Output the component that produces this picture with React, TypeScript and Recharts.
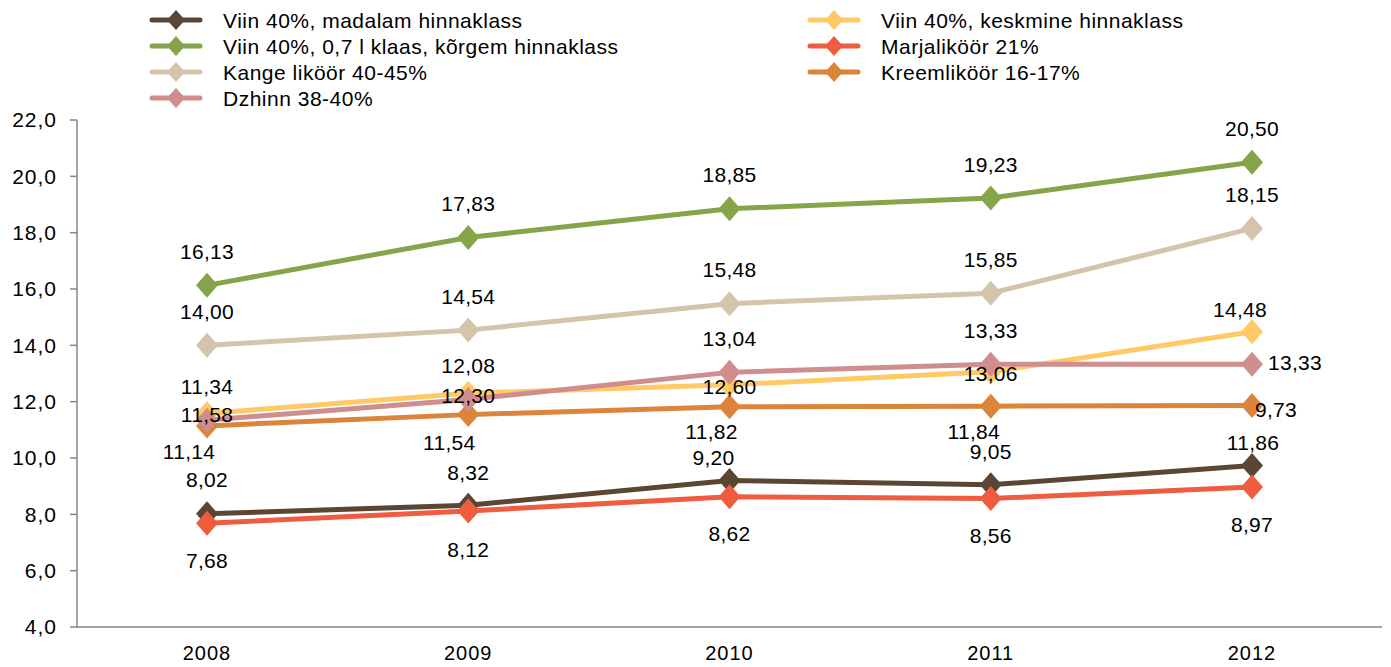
import React from "react";
import { LineChart, Line, XAxis, YAxis, LabelList } from "recharts";

const years = ["2008", "2009", "2010", "2011", "2012"];
const yTicks = [4, 6, 8, 10, 12, 14, 16, 18, 20, 22];

const viinMadalam = [8.02, 8.32, 9.2, 9.05, 9.73];
const viinKeskmine = [11.58, 12.3, 12.6, 13.06, 14.48];
const viinKorgem = [16.13, 17.83, 18.85, 19.23, 20.5];
const marjalikoor = [7.68, 8.12, 8.62, 8.56, 8.97];
const kangeLikoor = [14.0, 14.54, 15.48, 15.85, 18.15];
const kreemlikoor = [11.14, 11.54, 11.82, 11.84, 11.86];
const dzhinn = [11.34, 12.08, 13.04, 13.33, 13.33];

// label texts as printed in the source (the 2012 labels of two series are swapped there)
const viinMadalamLabels = [8.02, 8.32, 9.2, 9.05, 11.86];
const kreemlikoorLabels = [11.14, 11.54, 11.82, 11.84, 9.73];

const FONT = "'Liberation Sans', Arial, sans-serif";
const AXIS = "#868686";

const series = [
  { key: "madalam", name: "Viin 40%, madalam hinnaklass", color: "#5B4634", values: viinMadalam, labels: viinMadalamLabels },
  { key: "keskmine", name: "Viin 40%, keskmine hinnaklass", color: "#FFC966", values: viinKeskmine, labels: viinKeskmine },
  { key: "korgem", name: "Viin 40%, 0,7 l klaas, kõrgem hinnaklass", color: "#86A44A", values: viinKorgem, labels: viinKorgem },
  { key: "marja", name: "Marjaliköör 21%", color: "#F05C40", values: marjalikoor, labels: marjalikoor },
  { key: "kange", name: "Kange liköör 40-45%", color: "#D4C4AC", values: kangeLikoor, labels: kangeLikoor },
  { key: "kreem", name: "Kreemliköör 16-17%", color: "#DC843A", values: kreemlikoor, labels: kreemlikoorLabels },
  { key: "dzhinn", name: "Dzhinn 38-40%", color: "#CF8D8D", values: dzhinn, labels: dzhinn },
];

// where each data label sits relative to its point [dx, dy]
const labelOffsets: Record<string, number[][]> = {
  madalam: [[0, -34], [0, -33], [-16, -23], [0, -33], [1, -23]],
  keskmine: [[0, 1], [0, 2], [0, 2], [0, 2], [-12, -22]],
  korgem: [[0, -34], [0, -34], [0, -34], [0, -34], [0, -34]],
  marja: [[0, 37], [0, 38], [0, 37], [0, 37], [0, 37]],
  kange: [[0, -34], [0, -34], [0, -34], [0, -34], [0, -34]],
  kreem: [[-18, 26], [-19, 28], [-18, 25], [-17, 25], [24, 4]],
  dzhinn: [[0, -34], [0, -34], [0, -34], [0, -34], [43, -2]],
};

const legendLeft = ["madalam", "korgem", "kange", "dzhinn"];
const legendRight = ["keskmine", "marja", "kreem"];

const rows = years.map((year, i) => {
  const row: Record<string, string | number> = { year };
  series.forEach((s) => {
    row[s.key] = s.values[i];
    row[s.key + "Label"] = s.labels[i];
  });
  return row;
});

const fmt = (v: number) => v.toFixed(2).replace(".", ",");

function Diamond(props: any) {
  const { cx, cy, fill, index } = props;
  if (cx == null || cy == null) return <g key={index} />;
  return (
    <path
      key={index}
      d={`M${cx},${cy - 12.5} L${cx + 11},${cy} L${cx},${cy + 12.5} L${cx - 11},${cy} Z`}
      fill={fill}
    />
  );
}

function makeLabel(key: string) {
  return (props: any) => {
    const { x, y, value, index } = props;
    const off = labelOffsets[key][index] || [0, -34];
    return (
      <text
        key={index}
        x={x + off[0]}
        y={y + off[1]}
        dy="0.36em"
        textAnchor="middle"
        fontFamily={FONT}
        fontSize={21}
        letterSpacing={0.3}
        fill="#000"
      >
        {fmt(Number(value))}
      </text>
    );
  };
}

function LegendItem({ s, x, y }: { s: (typeof series)[number]; x: number; y: number }) {
  return (
    <g>
      <line x1={x} y1={y} x2={x + 48} y2={y} stroke={s.color} strokeWidth={5} strokeLinecap="round" />
      <path d={`M${x + 24},${y - 10} L${x + 33},${y} L${x + 24},${y + 10} L${x + 15},${y} Z`} fill={s.color} />
      <text x={x + 71} y={y} dy="0.36em" fontFamily={FONT} fontSize={21} letterSpacing={0.5} fill="#000">
        {s.name}
      </text>
    </g>
  );
}

export default function App() {
  const byKey = (k: string) => series.find((s) => s.key === k)!;
  return (
    <div style={{ position: "absolute", left: 0, top: 0, width: 1391, height: 667, background: "#fff" }}>
      <LineChart width={1391} height={667} data={rows} margin={{ top: 120, right: 9, bottom: 0, left: 0 }}>
        <XAxis
          dataKey="year"
          padding={{ left: 130, right: 130 }}
          axisLine={{ stroke: AXIS, strokeWidth: 1.5 }}
          tickLine={false}
          tickSize={0}
          tickMargin={19}
          height={40}
          tick={{ fill: "#000", fontFamily: FONT, fontSize: 20, letterSpacing: 1 }}
        />
        <XAxis
          xAxisId="top"
          dataKey="year"
          orientation="top"
          padding={{ left: 130, right: 130 }}
          height={0}
          tick={false}
          tickLine={false}
          axisLine={{ stroke: AXIS, strokeWidth: 1.5 }}
        />
        <YAxis
          domain={[4, 22]}
          ticks={yTicks}
          width={77}
          interval={0}
          axisLine={{ stroke: AXIS, strokeWidth: 1.5 }}
          tickLine={{ stroke: AXIS, strokeWidth: 1.5 }}
          tickSize={7}
          tickMargin={13}
          tickFormatter={(v: number) => v.toFixed(1).replace(".", ",")}
          tick={{ fill: "#000", fontFamily: FONT, fontSize: 21, letterSpacing: 1 }}
        />
        <YAxis
          yAxisId="right"
          orientation="right"
          domain={[4, 22]}
          width={0}
          tick={false}
          tickLine={false}
          axisLine={{ stroke: AXIS, strokeWidth: 1.5 }}
        />
        {series.map((s) => (
          <Line
            key={s.key}
            dataKey={s.key}
            name={s.name}
            stroke={s.color}
            strokeWidth={5}
            fill={s.color}
            dot={(p: any) => <Diamond {...p} fill={s.color} key={p.index} />}
            activeDot={false}
            isAnimationActive={false}
          />
        ))}
        {series.map((s) => (
          <Line
            key={s.key + "-labels"}
            dataKey={s.key}
            stroke="none"
            dot={false}
            activeDot={false}
            legendType="none"
            isAnimationActive={false}
          >
            <LabelList dataKey={s.key + "Label"} content={makeLabel(s.key)} />
          </Line>
        ))}
      </LineChart>
      <svg width={1391} height={115} style={{ position: "absolute", left: 0, top: 0 }}>
        {legendLeft.map((k, i) => (
          <LegendItem key={k} s={byKey(k)} x={152} y={20 + i * 26} />
        ))}
        {legendRight.map((k, i) => (
          <LegendItem key={k} s={byKey(k)} x={810} y={20 + i * 26} />
        ))}
      </svg>
    </div>
  );
}
